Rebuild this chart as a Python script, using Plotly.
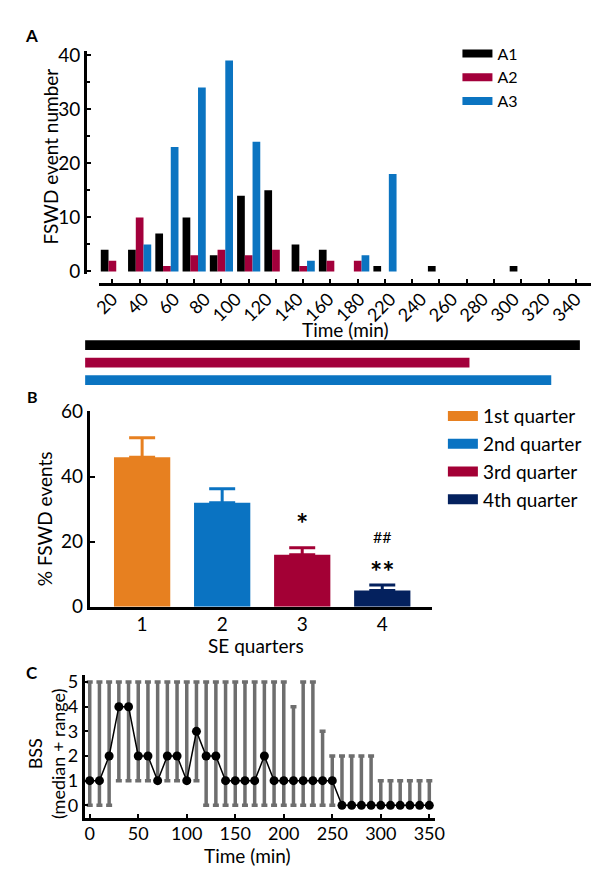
import plotly.graph_objects as go

W, H = 604, 873


def px(x):
    return x / W


def py(y):
    return 1 - y / H


# ---------------- Panel A data ----------------
bin_end_min = [20, 40, 60, 80, 100, 120, 140, 160, 180, 200, 220, 240, 260, 280, 300, 320, 340, 360]
a1_counts = [4, 4, 7, 10, 3, 14, 15, 5, 4, 0, 1, 0, 1, 0, 0, 1, 0, 0]
a2_counts = [2, 10, 1, 3, 4, 3, 4, 1, 2, 2, 0, 0, 0, 0, 0, 0, 0, 0]
a3_counts = [0, 5, 23, 34, 39, 24, 0, 2, 0, 3, 18, 0, 0, 0, 0, 0, 0, 0]
a_tick_labels = ["20", "40", "60", "80", "100", "120", "140", "160", "180",
                 "220", "240", "260", "280", "300", "320", "340"]
animal_names = ["A1", "A2", "A3"]
animal_colors = ["#000000", "#A3003B", "#0B74C1"]
recording_min = [363, 282, 342]

# ---------------- Panel B data ----------------
quarters = [1, 2, 3, 4]
quarter_names = ["1st quarter", "2nd quarter", "3rd quarter", "4th quarter"]
quarter_colors = ["#E78020", "#0A73C2", "#A30035", "#04215E"]
pct_events = [46, 32, 16, 5]
pct_err = [6, 4.3, 2.2, 1.7]
star_marks = ["", "", "*", "**"]
star_y = [0, 0, 26.0, 11.3]
hash_marks = ["", "", "", "##"]
hash_y = [0, 0, 0, 21.7]

# ---------------- Panel C data ----------------
bss_time = [0, 10, 20, 30, 40, 50, 60, 70, 80, 90, 100, 110, 120, 130, 140, 150, 160, 170,
            180, 190, 200, 210, 220, 230, 240, 250, 260, 270, 280, 290, 300, 310, 320, 330, 340, 350]
bss_median = [1, 1, 2, 4, 4, 2, 2, 1, 2, 2, 1, 3, 2, 2, 1, 1, 1, 1,
              2, 1, 1, 1, 1, 1, 1, 1, 0, 0, 0, 0, 0, 0, 0, 0, 0, 0]
bss_min = [0, 0, 0, 1, 1, 1, 1, 1, 1, 1, 1, 1, 0, 0, 0, 0, 0, 0,
           0, 0, 0, 0, 0, 0, 0, 0, 0, 0, 0, 0, 0, 0, 0, 0, 0, 0]
bss_max = [5, 5, 5, 5, 5, 5, 5, 5, 5, 5, 5, 5, 5, 5, 5, 5, 5, 5,
           5, 5, 5, 4, 5, 5, 3, 2, 2, 2, 2, 2, 1, 1, 1, 1, 1, 1]

FONT = "Lato"
fig = go.Figure()

# Panel A bars
for name, col, vals in zip(animal_names, animal_colors, [a1_counts, a2_counts, a3_counts]):
    fig.add_trace(go.Bar(x=bin_end_min, y=vals, name=name, marker=dict(color=col, line=dict(width=0)),
                         xaxis="x", yaxis="y", showlegend=False))
# legend swatches for A
for name, col in zip(animal_names, animal_colors):
    fig.add_trace(go.Scatter(x=[None], y=[None], mode="lines", name=name,
                             line=dict(color=col, width=8), xaxis="x", yaxis="y",
                             legend="legend", legendgroup=name))
# label carrier for overlay axis
fig.add_trace(go.Scatter(x=[None], y=[None], xaxis="x4", yaxis="y", showlegend=False))

# recording duration bars
fig.add_trace(go.Bar(y=[2, 1, 0], x=recording_min, base=0, orientation="h", width=0.55,
                     marker=dict(color=animal_colors, line=dict(width=0)),
                     xaxis="x5", yaxis="y5", showlegend=False))

# Panel B bars
for q, name, col, v, e in zip(quarters, quarter_names, quarter_colors, pct_events, pct_err):
    fig.add_trace(go.Bar(x=[q], y=[v], width=0.703, offsetgroup="b", name=name,
                         marker=dict(color=col, line=dict(width=0)),
                         error_y=dict(type="data", array=[e], arrayminus=[0], symmetric=False,
                                      color=col, thickness=3, width=13),
                         xaxis="x2", yaxis="y2", showlegend=False))
for name, col in zip(quarter_names, quarter_colors):
    fig.add_trace(go.Scatter(x=[None], y=[None], mode="lines", name=name,
                             line=dict(color=col, width=14), xaxis="x2", yaxis="y2",
                             legend="legend2", legendgroup=name))

# Panel C
fig.add_trace(go.Scatter(
    x=bss_time, y=bss_median, mode="markers",
    marker=dict(size=1, color="rgba(0,0,0,0)"),
    error_y=dict(type="data", symmetric=False,
                 array=[mx - md for mx, md in zip(bss_max, bss_median)],
                 arrayminus=[md - mn for md, mn in zip(bss_median, bss_min)],
                 color="#6E6E6E", thickness=3.5, width=3),
    xaxis="x3", yaxis="y3", showlegend=False))
fig.add_trace(go.Scatter(x=bss_time, y=bss_median, mode="lines+markers",
                         line=dict(color="black", width=1.5),
                         marker=dict(color="black", size=9),
                         xaxis="x3", yaxis="y3", showlegend=False))

n_lab = len(a_tick_labels)
lab_pos = [bin_end_min[0] + i * (bin_end_min[-1] - bin_end_min[0]) / (n_lab - 1) for i in range(n_lab)]

axis_common = dict(showgrid=False, zeroline=False, linecolor="black", tickcolor="black")

annotations = []
for q, s, sy in zip(quarters, star_marks, star_y):
    if s:
        annotations.append(dict(x=q, y=sy, xref="x2", yref="y2", text="<b>%s</b>" % s, showarrow=False,
                                font=dict(size=29, family=FONT, color="black")))
for q, s, sy in zip(quarters, hash_marks, hash_y):
    if s:
        annotations.append(dict(x=q, y=sy, xref="x2", yref="y2", text=s, showarrow=False,
                                font=dict(size=16, family=FONT, color="black")))


def txt(x, y, text, size=19, angle=0, bold=False):
    return dict(x=px(x), y=py(y), xref="paper", yref="paper", text=("<b>%s</b>" % text) if bold else text,
                showarrow=False, textangle=angle, xanchor="center", yanchor="middle",
                font=dict(size=size, family=FONT, color="black"))


annotations += [
    txt(16, 17, "A", 17, bold=True),
    txt(17, 387, "B", 16, bold=True),
    txt(16, 670, "C", 17, bold=True),
    txt(35, 141, "FSWD event number", 19, angle=-90),
    txt(340, 319, "Time (min)", 19),
    txt(29, 513, "% FSWD events", 19, angle=-90),
    txt(247, 643, "SE quarters", 19),
    txt(32, 754, "BSS<br>(median + range)", 18, angle=-90),
    txt(239, 858, "Time (min)", 19),
]

fig.update_layout(
    width=W, height=H, margin=dict(l=0, r=0, t=0, b=0),
    paper_bgcolor="white", plot_bgcolor="rgba(0,0,0,0)",
    font=dict(family=FONT, size=19, color="black"),
    barmode="group", bargap=0.15, bargroupgap=0,
    xaxis=dict(domain=[px(86), px(593)], range=[10.5, 371.4], anchor="free", position=py(272),
               showline=True, linewidth=3, ticks="inside", ticklen=4, tickwidth=2,
               tickmode="array", tickvals=bin_end_min, showticklabels=False, **axis_common),
    xaxis4=dict(overlaying="x", range=[10.5, 371.4], anchor="free", position=py(272),
                showline=False, ticks="", tickmode="array", tickvals=lab_pos, ticktext=a_tick_labels,
                tickangle=-45, tickfont=dict(size=18), showgrid=False, zeroline=False),
    yaxis=dict(domain=[py(261.8), py(33.1)], range=[-0.5, 40.7], anchor="free", position=px(71.2),
               showline=True, linewidth=3, ticks="inside", ticklen=4, tickwidth=2,
               tickmode="array", tickvals=[0, 10, 20, 30, 40], tickfont=dict(size=19),
               minor=dict(ticks="inside", ticklen=3, tickwidth=1.5, tickmode="array", tickvals=[5, 15, 25, 35]),
               **axis_common),
    xaxis5=dict(domain=[px(71.2), px(593)], range=[0, 371.4], anchor="y5", visible=False),
    yaxis5=dict(domain=[py(379.5), py(325.5)], range=[-0.5, 2.5], anchor="x5", visible=False),
    xaxis2=dict(domain=[px(76), px(429)], range=[0.3455, 4.624], anchor="y2",
                showline=True, linewidth=3, ticks="", tickmode="array", tickvals=quarters,
                tickfont=dict(size=19), ticklabelstandoff=-2, **axis_common),
    yaxis2=dict(domain=[py(603), py(402)], range=[0, 60.3], anchor="x2",
                showline=True, linewidth=3, ticks="inside", ticklen=5, tickwidth=2,
                tickmode="array", tickvals=[0, 20, 40, 60], tickfont=dict(size=19), **axis_common),
    xaxis3=dict(domain=[px(71), px(432)], range=[-5, 356], anchor="y3",
                showline=True, linewidth=3, ticks="inside", ticklen=4, tickwidth=2,
                tickmode="array", tickvals=[0, 50, 100, 150, 200, 250, 300, 350],
                tickfont=dict(size=18), ticklabelstandoff=-2, **axis_common),
    yaxis3=dict(domain=[py(819.3), py(672.6)], range=[-0.5, 5.3], anchor="x3",
                showline=True, linewidth=3, ticks="inside", ticklen=3, tickwidth=2,
                tickmode="array", tickvals=[0, 1, 2, 3, 4, 5], tickfont=dict(size=18), **axis_common),
    legend=dict(x=px(455), y=py(18), xanchor="left", yanchor="top", font=dict(size=16),
                bgcolor="rgba(0,0,0,0)", tracegroupgap=0, itemwidth=30),
    legend2=dict(x=px(440), y=py(388), xanchor="left", yanchor="top", font=dict(size=19),
                 bgcolor="rgba(0,0,0,0)", tracegroupgap=0, itemwidth=30),
    annotations=annotations,
)

fig.write_html("out.html")
